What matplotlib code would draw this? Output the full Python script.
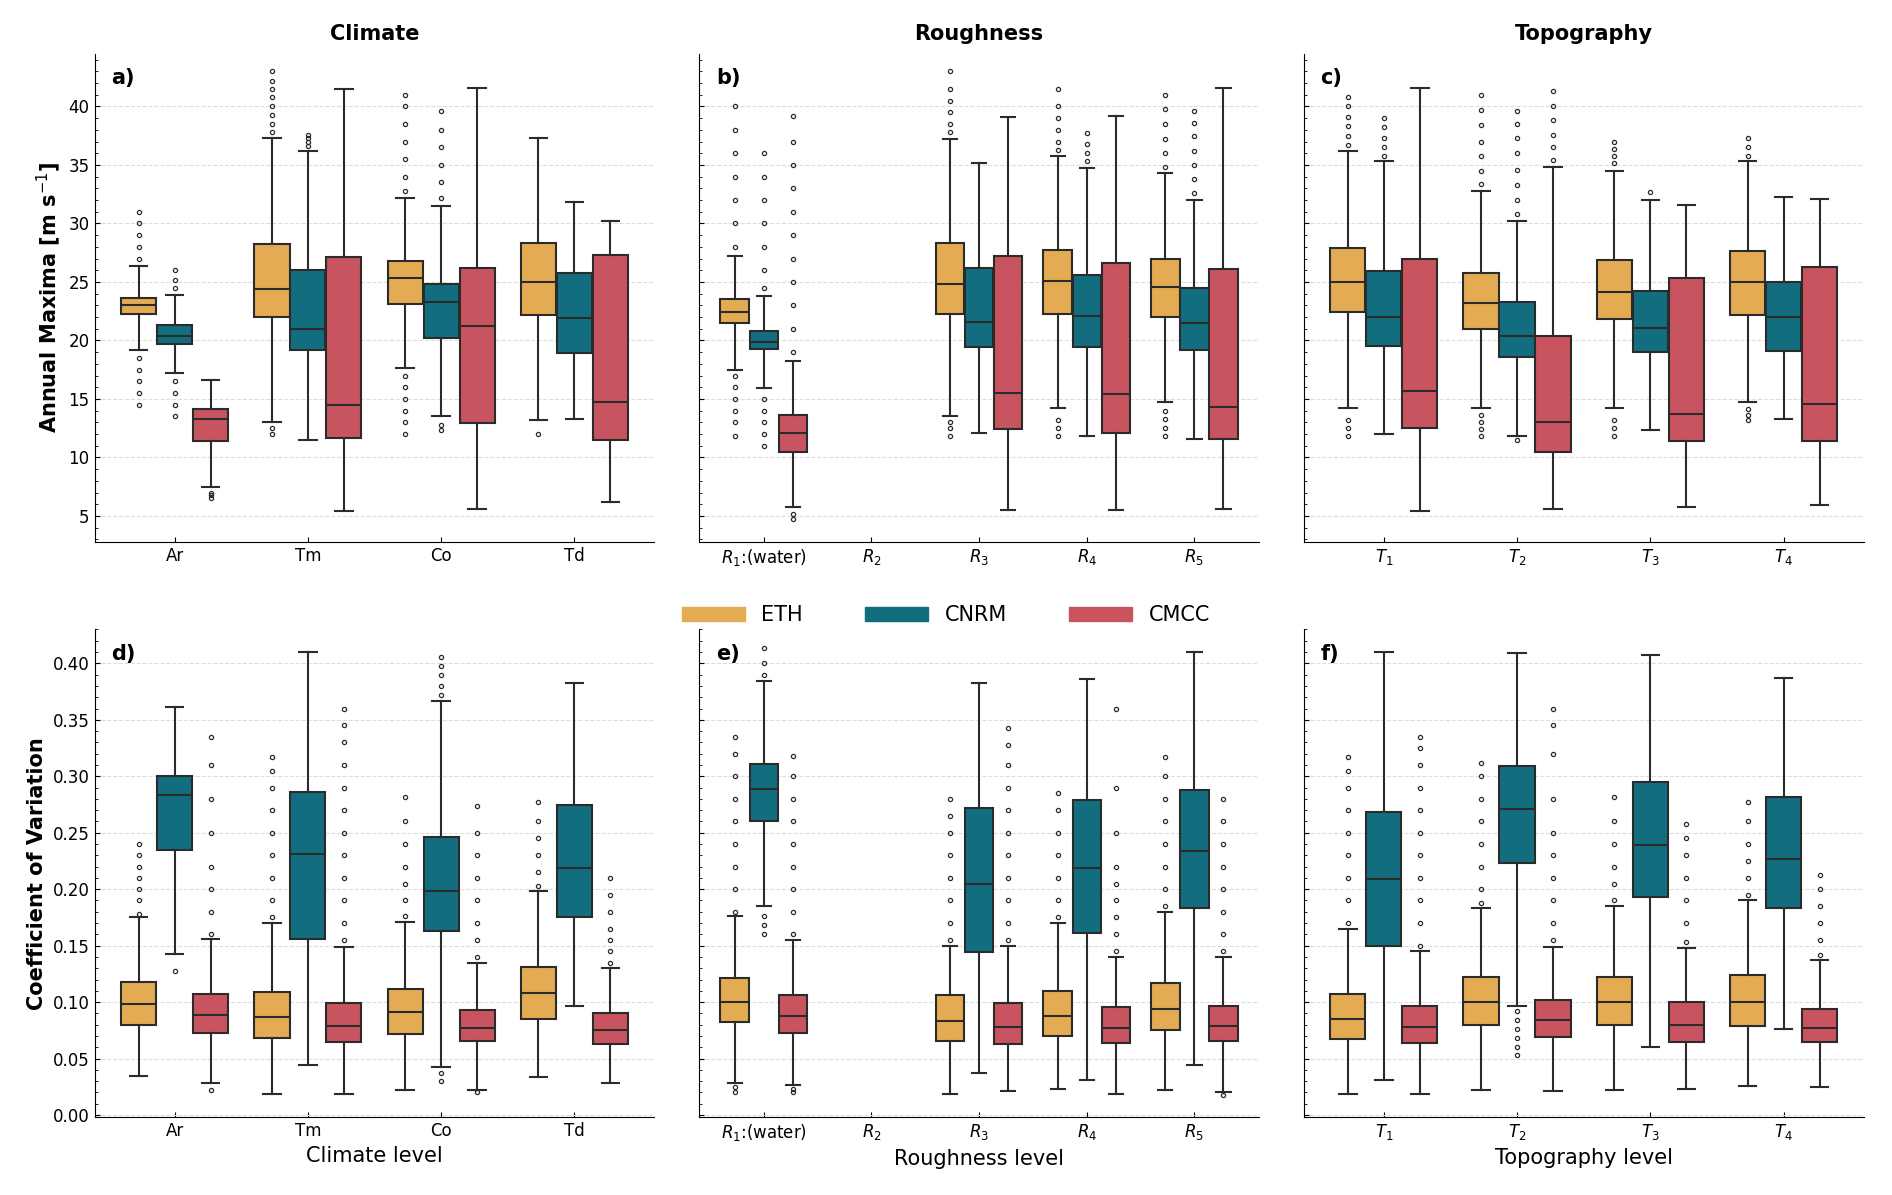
import numpy as np
import matplotlib.pyplot as plt

models = ['ETH', 'CNRM', 'CMCC']
colors = ['#E3AC52', '#126E7F', '#C8545F']

clim_labels = ['Ar', 'Tm', 'Co', 'Td']
rough_labels = [r'$R_1$:(water)', r'$R_2$', r'$R_3$', r'$R_4$', r'$R_5$']
topo_labels = [r'$T_1$', r'$T_2$', r'$T_3$', r'$T_4$']

# each box: (whislo, q1, med, q3, whishi, fliers)
clim_max = [
    [(19.2, 22.3, 23.0, 23.6, 26.4, [14.5, 15.5, 16.5, 17.5, 18.5, 27, 28, 29, 30, 31]),
     (17.2, 19.7, 20.4, 21.3, 23.9, [13.5, 14.5, 15.5, 16.5, 24.5, 25.2, 26]),
     (7.5, 11.4, 13.3, 14.1, 16.6, [6.5, 6.8, 7.0])],
    [(13.0, 22.0, 24.4, 28.2, 37.3, [12, 12.5, 37.8, 38.5, 39.3, 40, 40.8, 41.5, 42.2, 43]),
     (11.5, 19.2, 21.0, 26.0, 36.2, [36.6, 37, 37.3, 37.6]),
     (5.4, 11.7, 14.5, 27.1, 41.5, [])],
    [(17.6, 23.1, 25.3, 26.8, 32.2, [12, 13, 14, 15, 16, 17, 32.8, 34, 35.5, 37, 38.5, 40, 41]),
     (13.5, 20.2, 23.3, 24.8, 31.5, [12.3, 12.8, 32.2, 33.5, 35, 36.5, 38, 39.6]),
     (5.6, 12.9, 21.2, 26.2, 41.6, [])],
    [(13.2, 22.2, 25.0, 28.3, 37.3, [12]),
     (13.3, 18.9, 21.9, 25.8, 31.8, []),
     (6.2, 11.5, 14.7, 27.3, 30.2, [])],
]
rough_max = [
    [(17.5, 21.5, 22.4, 23.5, 27.2, [11.8, 13, 14, 15, 16, 17, 28, 30, 32, 34, 36, 38, 40]),
     (15.9, 19.3, 19.9, 20.8, 23.8, [11, 12, 13, 14, 15, 24.5, 26, 28, 30, 32, 34, 36]),
     (5.8, 10.5, 12.1, 13.6, 18.2, [4.7, 5.2, 19, 21, 23, 25, 27, 29, 31, 33, 35, 37, 39.2])],
    None,
    [(13.5, 22.3, 24.8, 28.3, 37.2, [11.8, 12.5, 13, 37.8, 38.5, 39.5, 40.5, 41.5, 43]),
     (12.1, 19.4, 21.6, 26.2, 35.2, []),
     (5.5, 12.4, 15.5, 27.2, 39.1, [])],
    [(14.2, 22.3, 25.1, 27.7, 35.8, [11.8, 12.5, 13.2, 36.3, 37, 38, 39, 40, 41.5]),
     (11.8, 19.4, 22.1, 25.6, 34.7, [35.3, 36, 36.8, 37.7]),
     (5.5, 12.1, 15.4, 26.6, 39.2, [])],
    [(14.7, 22.0, 24.6, 27.0, 34.3, [11.8, 12.5, 13.3, 14, 34.8, 36, 37.2, 38.5, 39.8, 41]),
     (11.6, 19.2, 21.5, 24.5, 32.0, [32.6, 33.8, 35, 36.2, 37.5, 38.6, 39.6]),
     (5.6, 11.6, 14.3, 26.1, 41.6, [])],
]
topo_max = [
    [(14.2, 22.4, 25.0, 27.9, 36.2, [11.8, 12.5, 13.2, 36.7, 37.5, 38.3, 39.1, 40, 40.8]),
     (12.0, 19.5, 22.0, 25.9, 35.3, [35.8, 36.5, 37.3, 38.2, 39]),
     (5.4, 12.5, 15.7, 27.0, 41.6, [])],
    [(14.2, 21.0, 23.2, 25.8, 32.8, [11.8, 12.4, 13, 13.6, 33.4, 34.5, 35.8, 37, 38.4, 39.7, 41]),
     (11.8, 18.6, 20.4, 23.3, 30.2, [11.5, 30.8, 32, 33.3, 34.6, 36, 37.3, 38.5, 39.6]),
     (5.6, 10.5, 13.0, 20.4, 34.8, [35.4, 36.5, 37.6, 38.8, 40, 41.3])],
    [(14.2, 21.8, 24.1, 26.9, 34.5, [11.8, 12.5, 13.2, 35.2, 35.8, 36.4, 37]),
     (12.3, 19.0, 21.1, 24.2, 32.0, [32.7]),
     (5.8, 11.4, 13.7, 25.3, 31.6, [])],
    [(14.7, 22.2, 25.0, 27.6, 35.3, [13.2, 13.6, 14.1, 35.8, 36.5, 37.3]),
     (13.3, 19.1, 22.0, 25.0, 32.3, []),
     (5.9, 11.4, 14.6, 26.3, 32.1, [])],
]

clim_cv = [
    [(0.035, 0.080, 0.098, 0.118, 0.175, [0.178, 0.19, 0.2, 0.21, 0.22, 0.23, 0.24]),
     (0.143, 0.235, 0.283, 0.300, 0.361, [0.128]),
     (0.028, 0.073, 0.089, 0.107, 0.156, [0.022, 0.16, 0.18, 0.2, 0.22, 0.25, 0.28, 0.31, 0.335])],
    [(0.019, 0.068, 0.087, 0.109, 0.170, [0.175, 0.19, 0.21, 0.23, 0.25, 0.27, 0.29, 0.305, 0.317]),
     (0.044, 0.156, 0.231, 0.286, 0.410, []),
     (0.019, 0.065, 0.079, 0.099, 0.149, [0.155, 0.17, 0.19, 0.21, 0.23, 0.25, 0.27, 0.29, 0.31, 0.33, 0.345, 0.36])],
    [(0.022, 0.072, 0.091, 0.112, 0.171, [0.176, 0.19, 0.205, 0.22, 0.24, 0.26, 0.282]),
     (0.043, 0.163, 0.198, 0.246, 0.367, [0.03, 0.037, 0.372, 0.38, 0.39, 0.398, 0.406]),
     (0.022, 0.066, 0.077, 0.093, 0.135, [0.02, 0.14, 0.155, 0.17, 0.19, 0.21, 0.23, 0.25, 0.274])],
    [(0.034, 0.085, 0.108, 0.131, 0.198, [0.203, 0.215, 0.23, 0.245, 0.26, 0.277]),
     (0.097, 0.175, 0.219, 0.275, 0.383, []),
     (0.028, 0.063, 0.075, 0.090, 0.130, [0.135, 0.145, 0.155, 0.165, 0.18, 0.195, 0.21])],
]
rough_cv = [
    [(0.028, 0.082, 0.100, 0.121, 0.176, [0.02, 0.025, 0.18, 0.2, 0.22, 0.24, 0.26, 0.28, 0.3, 0.32, 0.335]),
     (0.185, 0.260, 0.289, 0.311, 0.384, [0.16, 0.168, 0.176, 0.39, 0.4, 0.414]),
     (0.027, 0.073, 0.088, 0.106, 0.155, [0.02, 0.023, 0.16, 0.18, 0.2, 0.22, 0.24, 0.26, 0.28, 0.3, 0.318])],
    None,
    [(0.019, 0.066, 0.083, 0.106, 0.150, [0.155, 0.17, 0.19, 0.21, 0.23, 0.25, 0.265, 0.28]),
     (0.037, 0.144, 0.205, 0.272, 0.383, []),
     (0.021, 0.063, 0.078, 0.099, 0.150, [0.155, 0.17, 0.19, 0.21, 0.23, 0.25, 0.27, 0.29, 0.31, 0.328, 0.343])],
    [(0.023, 0.070, 0.088, 0.110, 0.170, [0.175, 0.19, 0.21, 0.23, 0.25, 0.27, 0.285]),
     (0.031, 0.161, 0.219, 0.279, 0.386, []),
     (0.019, 0.064, 0.077, 0.096, 0.140, [0.145, 0.16, 0.175, 0.19, 0.205, 0.22, 0.25, 0.29, 0.36])],
    [(0.022, 0.075, 0.094, 0.117, 0.180, [0.185, 0.2, 0.22, 0.24, 0.26, 0.28, 0.3, 0.317]),
     (0.044, 0.183, 0.234, 0.288, 0.410, []),
     (0.020, 0.066, 0.079, 0.097, 0.140, [0.018, 0.145, 0.16, 0.18, 0.2, 0.22, 0.24, 0.26, 0.28])],
]
topo_cv = [
    [(0.019, 0.067, 0.085, 0.107, 0.165, [0.17, 0.19, 0.21, 0.23, 0.25, 0.27, 0.29, 0.305, 0.317]),
     (0.031, 0.150, 0.209, 0.268, 0.410, []),
     (0.019, 0.064, 0.078, 0.097, 0.145, [0.15, 0.17, 0.19, 0.21, 0.23, 0.25, 0.27, 0.29, 0.31, 0.325, 0.335])],
    [(0.022, 0.080, 0.100, 0.122, 0.183, [0.188, 0.2, 0.22, 0.24, 0.26, 0.28, 0.3, 0.312]),
     (0.097, 0.223, 0.271, 0.309, 0.409, [0.053, 0.06, 0.068, 0.076, 0.084, 0.092]),
     (0.021, 0.069, 0.084, 0.102, 0.149, [0.155, 0.17, 0.19, 0.21, 0.23, 0.25, 0.28, 0.32, 0.345, 0.36])],
    [(0.022, 0.080, 0.100, 0.122, 0.185, [0.19, 0.205, 0.22, 0.24, 0.26, 0.282]),
     (0.060, 0.193, 0.239, 0.295, 0.407, []),
     (0.023, 0.065, 0.080, 0.100, 0.148, [0.153, 0.17, 0.19, 0.21, 0.23, 0.245, 0.258])],
    [(0.026, 0.079, 0.100, 0.124, 0.190, [0.195, 0.21, 0.225, 0.24, 0.26, 0.277]),
     (0.076, 0.183, 0.227, 0.282, 0.387, []),
     (0.025, 0.065, 0.077, 0.094, 0.137, [0.142, 0.155, 0.17, 0.185, 0.2, 0.213])],
]


def draw_panel(ax, groups, labels):
    width = 0.27
    for gi, group in enumerate(groups):
        if group is None:
            continue
        for mi, (lo, q1, med, q3, hi, fl) in enumerate(group):
            st = dict(whislo=lo, q1=q1, med=med, q3=q3, whishi=hi, fliers=fl)
            ax.bxp([st], positions=[gi + (mi - 1) * width], widths=width * 0.98,
                   patch_artist=True, showfliers=True,
                   boxprops=dict(facecolor=colors[mi], edgecolor='#2b2b2b', linewidth=1.5),
                   medianprops=dict(color='#2b2b2b', linewidth=1.5),
                   whiskerprops=dict(color='#2b2b2b', linewidth=1.5),
                   capprops=dict(color='#2b2b2b', linewidth=1.5),
                   flierprops=dict(marker='o', markersize=3, markerfacecolor='none',
                                   markeredgecolor='#2b2b2b', markeredgewidth=0.9))
    ax.set_xticks(range(len(labels)))
    ax.set_xticklabels(labels, fontsize=12)
    ax.set_xlim(-0.6, len(labels) - 0.4)
    ax.grid(axis='y', linestyle='--', color='#dddddd', linewidth=0.8)
    ax.set_axisbelow(True)
    ax.spines['top'].set_visible(False)
    ax.spines['right'].set_visible(False)
    ax.tick_params(direction='in', labelsize=12)
    ax.minorticks_on()
    ax.tick_params(axis='x', which='minor', bottom=False)
    ax.tick_params(axis='y', which='minor', direction='in')


fig, axes = plt.subplots(2, 3, figsize=(18.92, 11.95), dpi=100, sharey='row')
top = [(clim_max, clim_labels), (rough_max, rough_labels), (topo_max, topo_labels)]
bot = [(clim_cv, clim_labels), (rough_cv, rough_labels), (topo_cv, topo_labels)]
titles = ['Climate', 'Roughness', 'Topography']
letters = ['a)', 'b)', 'c)', 'd)', 'e)', 'f)']
for i in range(3):
    draw_panel(axes[0, i], *top[i])
    draw_panel(axes[1, i], *bot[i])
    axes[0, i].set_title(titles[i], fontsize=15, fontweight='bold', pad=10)
    axes[1, i].set_xlabel(titles[i] + ' level', fontsize=15)
for k, ax in enumerate(axes.flat):
    ax.text(0.03, 0.97, letters[k], transform=ax.transAxes, fontsize=15,
            fontweight='bold', va='top')

axes[0, 0].set_ylim(2.8, 44.5)
axes[0, 0].set_yticks([5, 10, 15, 20, 25, 30, 35, 40])
axes[1, 0].set_ylim(-0.002, 0.43)
axes[1, 0].set_yticks(np.arange(0, 0.41, 0.05))
axes[0, 0].set_ylabel(r'Annual Maxima [m s$^{-1}$]', fontsize=15, fontweight='bold')
axes[1, 0].set_ylabel('Coefficient of Variation', fontsize=15, fontweight='bold')

handles = [plt.Rectangle((0, 0), 1, 1, color=c) for c in colors]
fig.legend(handles, models, loc='center', bbox_to_anchor=(0.5, 0.485), ncol=3,
           frameon=False, fontsize=15, handlelength=3, columnspacing=3)

plt.subplots_adjust(left=0.05, right=0.985, top=0.955, bottom=0.065,
                    wspace=0.08, hspace=0.18)
fig.savefig('out.png', dpi=100)
